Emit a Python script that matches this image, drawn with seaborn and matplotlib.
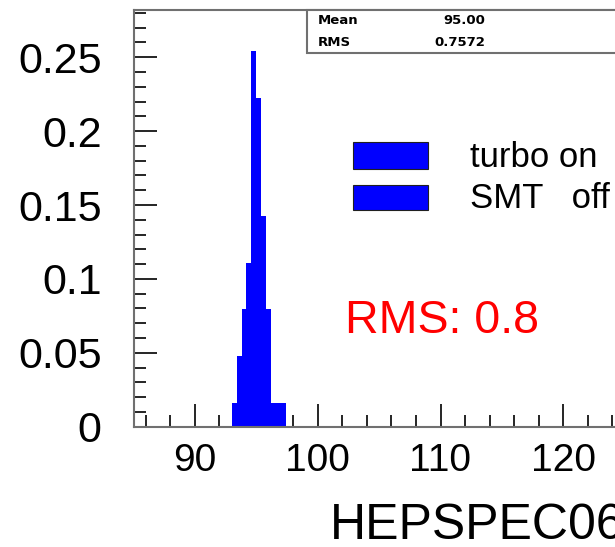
import matplotlib
matplotlib.use("Agg")
import numpy as np
import pandas as pd
import seaborn as sns
import matplotlib.pyplot as plt
from matplotlib.patches import Rectangle
from matplotlib.ticker import MultipleLocator

# Benchmark score distribution (fraction of runs per 0.4-wide bin)
bin_edges = [93.0, 93.4, 93.8, 94.2, 94.6, 95.0, 95.4, 95.8, 96.2, 96.6, 97.0, 97.4]
bin_fraction = [0.0159, 0.0476, 0.0794, 0.1111, 0.2540, 0.2222,
                0.1429, 0.0794, 0.0159, 0.0159, 0.0159]

x_ticks = [90, 100, 110, 120]
x_tick_labels = ["90", "100", "110", "120"]
y_ticks = [0, 0.05, 0.1, 0.15, 0.2, 0.25]
y_tick_labels = ["0", "0.05", "0.1", "0.15", "0.2", "0.25"]

legend_labels = ["turbo on", "SMT   off"]
stats_names = ["Mean", "RMS"]
stats_values = ["95.00", "0.7572"]
x_label = "HEPSPEC06"
rms_note = "RMS: 0.8"

BLUE = "#0000ff"
FRAME = "#707070"

sns.set_style("white")
plt.rcParams["font.family"] = ["Liberation Sans", "DejaVu Sans"]
plt.rcParams["text.color"] = "black"
plt.rcParams["axes.labelcolor"] = "black"
plt.rcParams["xtick.color"] = "black"
plt.rcParams["ytick.color"] = "black"

W_PX, H_PX = 615, 547
fig = plt.figure(figsize=(W_PX / 100, H_PX / 100), dpi=100)


def fx(px):
    return px / W_PX


def fy(py):
    return (H_PX - py) / H_PX


left, right, bottom, top = 133.5, 624.7, 426.7, 9.5
ax = fig.add_axes([fx(left), fy(bottom), fx(right) - fx(left), fy(top) - fy(bottom)])

centers = [(a + b) / 2 for a, b in zip(bin_edges[:-1], bin_edges[1:])]
df = pd.DataFrame({"score": centers, "fraction": bin_fraction})
sns.histplot(data=df, x="score", weights="fraction", bins=bin_edges,
             color=BLUE, alpha=1.0, linewidth=0, ax=ax)

ax.set_xlim(85, 125)
ax.set_ylim(0, 0.2823)
ax.set_xticks(x_ticks)
ax.set_xticklabels(x_tick_labels)
ax.set_yticks(y_ticks)
ax.set_yticklabels(y_tick_labels)
ax.xaxis.set_minor_locator(MultipleLocator(2))
ax.yaxis.set_minor_locator(MultipleLocator(0.01))
ax.tick_params(which="both", direction="in", color="black", width=1.2,
               bottom=True, left=True, top=False, right=False)
ax.tick_params(which="major", length=16.5)
ax.tick_params(which="minor", length=8.6)
ax.tick_params(axis="x", which="major", pad=12, labelsize=28)
ax.tick_params(axis="y", which="major", pad=23, labelsize=31)
ax.set_ylabel("")

for side in ["left", "bottom", "top", "right"]:
    ax.spines[side].set_color(FRAME)
    ax.spines[side].set_linewidth(1.5)

ax.set_xlabel(x_label, fontsize=36, ha="right")
ax.xaxis.set_label_coords(1.0, -0.182)

# Statistics box in the top corner
fig.add_artist(Rectangle((fx(307), fy(52.5)), fx(630) - fx(307), fy(9.5) - fy(52.5),
                         transform=fig.transFigure, facecolor="white",
                         edgecolor=FRAME, linewidth=1.5, zorder=5, clip_on=False))
for name, value, py in zip(stats_names, stats_values, [20, 42]):
    fig.text(fx(318), fy(py), name, fontsize=9.5, family="DejaVu Sans",
             fontweight="bold", ha="left", va="center", zorder=6)
    fig.text(fx(485), fy(py), value, fontsize=9.5, family="DejaVu Sans",
             fontweight="bold", ha="right", va="center", zorder=6)

# Legend entries
for label, (y0, y1), base in zip(legend_labels, [(142.3, 169.3), (185, 210)], [167, 208]):
    fig.add_artist(Rectangle((fx(353), fy(y1)), fx(428) - fx(353), fy(y0) - fy(y1),
                             transform=fig.transFigure, facecolor=BLUE,
                             edgecolor="#202020", linewidth=0.8, zorder=5))
    fig.text(fx(470), fy(base), label, fontsize=25, ha="left", va="baseline",
             color="black", zorder=6)

fig.text(fx(345), fy(332.7), rms_note, fontsize=33.5, color="#ff0000",
         ha="left", va="baseline")

fig.savefig("out.png", dpi=100)
